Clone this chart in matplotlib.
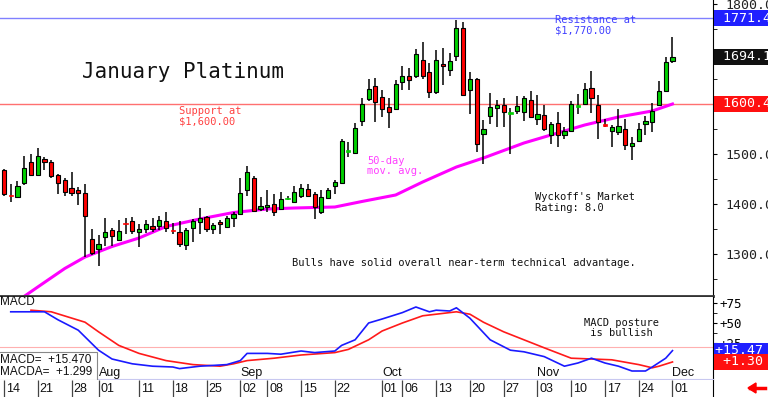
import matplotlib
matplotlib.use('Agg')
import matplotlib.pyplot as plt
import numpy as np
from matplotlib.transforms import blended_transform_factory

# Kerzen (Index 0 = 14. Juli, Index 99 = 1. Dezember)
opens = [1468, 1418, 1415, 1443, 1485, 1459, 1491, 1485, 1459, 1448,
         1433, 1428, 1423, 1331, 1311, 1335, 1348, 1328, 1362, 1367,
         1344, 1351, 1357, 1357, 1367, 1348, 1345, 1319, 1352, 1364,
         1375, 1351, 1365, 1355, 1373, 1381, 1429, 1453, 1391, 1395,
         1401, 1391, 1411, 1405, 1417, 1431, 1420, 1384, 1413, 1436,
         1443, 1506, 1503, 1567, 1611, 1637, 1615, 1595, 1591, 1645,
         1656, 1656, 1688, 1665, 1624, 1681, 1669, 1697, 1753, 1629,
         1651, 1541, 1576, 1593, 1599, 1582, 1587, 1585, 1609, 1571,
         1578, 1538, 1563, 1539, 1547, 1596, 1601, 1633, 1599, 1559,
         1547, 1545, 1550, 1517, 1526, 1561, 1565, 1599, 1627, 1686]
highs = [1470, 1441, 1447, 1496, 1501, 1512, 1495, 1488, 1460, 1453,
         1465, 1435, 1441, 1351, 1338, 1373, 1353, 1368, 1373, 1375,
         1360, 1368, 1373, 1377, 1384, 1363, 1367, 1353, 1371, 1393,
         1377, 1363, 1368, 1377, 1385, 1453, 1476, 1456, 1415, 1428,
         1420, 1424, 1416, 1436, 1440, 1440, 1424, 1429, 1432, 1449,
         1531, 1524, 1563, 1613, 1651, 1653, 1629, 1612, 1648, 1677,
         1672, 1711, 1725, 1683, 1708, 1712, 1703, 1769, 1765, 1664,
         1653, 1568, 1623, 1609, 1613, 1593, 1617, 1617, 1627, 1618,
         1598, 1565, 1585, 1555, 1606, 1621, 1642, 1667, 1618, 1571,
         1559, 1590, 1570, 1534, 1563, 1577, 1602, 1647, 1695, 1735]
lows = [1416, 1405, 1414, 1439, 1456, 1456, 1469, 1453, 1421, 1416,
        1416, 1399, 1295, 1298, 1276, 1316, 1316, 1327, 1341, 1341,
        1315, 1343, 1345, 1349, 1344, 1341, 1315, 1308, 1325, 1340,
        1344, 1341, 1341, 1353, 1355, 1379, 1416, 1384, 1387, 1385,
        1376, 1388, 1408, 1403, 1413, 1415, 1371, 1381, 1412, 1420,
        1441, 1495, 1501, 1557, 1607, 1564, 1575, 1553, 1588, 1628,
        1629, 1652, 1651, 1613, 1621, 1639, 1657, 1687, 1616, 1581,
        1505, 1481, 1561, 1555, 1555, 1501, 1580, 1566, 1573, 1558,
        1547, 1521, 1515, 1531, 1545, 1581, 1598, 1582, 1530, 1555,
        1514, 1539, 1509, 1489, 1525, 1539, 1545, 1598, 1624, 1683]
closes = [1420, 1417, 1437, 1473, 1459, 1497, 1485, 1456, 1443, 1424,
          1423, 1423, 1376, 1303, 1321, 1345, 1336, 1347, 1361, 1347,
          1351, 1360, 1351, 1368, 1352, 1347, 1321, 1349, 1367, 1372,
          1351, 1359, 1360, 1372, 1381, 1423, 1465, 1387, 1397, 1399,
          1385, 1411, 1412, 1425, 1432, 1417, 1395, 1415, 1429, 1444,
          1527, 1507, 1553, 1601, 1631, 1605, 1591, 1585, 1640, 1657,
          1649, 1700, 1656, 1624, 1689, 1676, 1687, 1753, 1619, 1651,
          1520, 1551, 1595, 1599, 1584, 1583, 1597, 1613, 1575, 1581,
          1551, 1561, 1538, 1547, 1601, 1597, 1630, 1613, 1565, 1558,
          1554, 1557, 1518, 1522, 1551, 1566, 1586, 1627, 1685, 1694]

# 50-Tage-Durchschnitt
ma_idx = [2, 5, 9, 12, 16, 20, 24, 29, 34, 39, 43, 49, 53, 58, 62, 67,
          71, 77, 81, 86, 91, 96, 99]
ma_val = [1206, 1234, 1271, 1294, 1315, 1332, 1355, 1370, 1383, 1390,
          1392, 1394, 1405, 1418, 1444, 1474, 1492, 1522, 1538, 1558,
          1574, 1586, 1600]

# MACD
macd_idx = [1, 4, 6, 8, 11, 14, 16, 19, 22, 25, 26, 29, 33, 35, 36, 39,
            41, 44, 46, 49, 50, 52, 54, 56, 59, 61, 63, 64, 66, 67, 69,
            71, 72, 75, 77, 80, 83, 85, 87, 89, 91, 93, 95, 96, 98, 99]
macd_val = [64, 64, 64, 54, 41, 16, 5, -1, -4, -5, -7, -4, -2, 3, 12, 12,
            11, 15, 13, 15, 22, 29, 50, 55, 63, 70, 64, 66, 65, 69, 56,
            38, 29, 16, 14, 8, -4, 0, 6, 0, -4, -10, -10, -5, 6, 15.47]
sig_idx = [4, 7, 12, 14, 17, 20, 24, 28, 32, 34, 36, 40, 44, 49, 51, 54,
           56, 59, 62, 65, 67, 69, 71, 74, 77, 80, 84, 87, 90, 94, 96, 97, 99]
sig_val = [66, 64, 51, 39, 22, 12, 3, -2, -4, -1, 3, 6, 10, 13, 17, 29,
           40, 50, 59, 62, 64, 61, 51, 39, 29, 19, 6, 5, 4, -2, -6, -4, 1.30]

day_ticks = [0, 5, 10, 14, 20, 25, 30, 35, 39, 44, 49, 56, 59, 64, 69,
             74, 79, 84, 89, 94, 99]
day_labels = ['14', '21', '28', '01', '11', '18', '25', '02', '08', '15',
              '22', '01', '06', '13', '20', '27', '03', '10', '17', '24', '01']
month_ticks = [14, 35, 56, 79, 99]
month_labels = ['Aug', 'Sep', 'Oct', 'Nov', 'Dec']

resistance = 1771.4
support = 1600.4
last_close = 1694.1

W, H = 768, 397
fig = plt.figure(figsize=(W / 100, H / 100), dpi=100)
fig.patch.set_facecolor('white')
mono = 'DejaVu Sans Mono'
sans = 'Liberation Sans'


def px_axes(left, top, right, bottom):
    return fig.add_axes([left / W, 1 - bottom / H, (right - left) / W, (bottom - top) / H])


xlim = (-0.59, 105.0)

# --- Kurs-Panel ---
ax = px_axes(0, 0, 713, 296)
ax.set_xlim(*xlim)
ax.set_ylim(1216, 1808)

x = np.arange(len(opens))
o = np.array(opens)
c = np.array(closes)
up = c >= o
ax.vlines(x, lows, highs, color='black', lw=1.1, zorder=3)
body = np.abs(c - o)
small = body < 3
cols = np.where(up, '#00d000', '#ff0000')
ax.bar(x[~small], body[~small], bottom=np.minimum(o, c)[~small], width=0.62,
       color=cols[~small], edgecolor='black', lw=0.8, zorder=4)
ax.bar(x[small], 3, bottom=np.minimum(o, c)[small] - 1, width=0.62,
       color=cols[small], edgecolor=cols[small], lw=0.5, zorder=4)

ax.plot(ma_idx, ma_val, color='#ff00ff', lw=2.2, zorder=2)
ax.axhline(resistance, color='#8080ff', lw=1.0, zorder=1)
ax.axhline(support, color='#ff7070', lw=1.0, zorder=1)

ax.yaxis.tick_right()
ax.set_yticks(np.arange(1300, 1801, 100))
ax.set_yticks(np.arange(1250, 1801, 50), minor=True)
ax.set_yticklabels(['%.1f' % v for v in np.arange(1300, 1801, 100)],
                   fontfamily=mono, fontsize=9.5)
ax.tick_params(axis='y', which='both', direction='out', length=3, pad=6, colors='black')
ax.tick_params(axis='y', which='major', labelcolor='#222222')
ax.set_xticks([])
for s in ['left', 'top']:
    ax.spines[s].set_visible(False)
ax.spines['right'].set_color('black')
ax.spines['bottom'].set_color('#333333')
ax.spines['bottom'].set_linewidth(2)

tr = blended_transform_factory(ax.transAxes, ax.transData)
for val, col in [(resistance, '#2020ff'), (last_close, '#111111'), (support, '#ff1010')]:
    ax.text(1.003, val, ' %.1f    ' % val, transform=tr, ha='left', va='center',
            fontfamily=mono, fontsize=9.5, color='white', zorder=10, clip_on=False,
            bbox=dict(boxstyle='square,pad=0.12', fc=col, ec='none'))

ax.text(0.115, 0.757, 'January Platinum', transform=ax.transAxes, fontfamily=mono,
        fontsize=15, va='center', ha='left', color='#111111')
ax.text(0.251, 0.643, 'Support at\n$1,600.00', transform=ax.transAxes, fontfamily=mono,
        fontsize=7.5, va='top', color='#ff4040', linespacing=1.05)
ax.text(0.778, 0.948, 'Resistance at\n$1,770.00', transform=ax.transAxes, fontfamily=mono,
        fontsize=7.5, va='top', color='#4040ff', linespacing=1.05)
ax.text(0.515, 0.473, '50-day\nmov. avg.', transform=ax.transAxes, fontfamily=mono,
        fontsize=7.5, va='top', color='#ff40ff', linespacing=1.05)
ax.text(0.750, 0.350, "Wyckoff's Market\nRating: 8.0", transform=ax.transAxes,
        fontfamily=mono, fontsize=7.5, va='top', color='#111111', linespacing=1.05)
ax.text(0.4095, 0.111, 'Bulls have solid overall near-term technical advantage.',
        transform=ax.transAxes, fontfamily=mono, fontsize=7.5, va='center',
        color='#111111')

# --- MACD-Panel ---
mx = px_axes(0, 297, 713, 379)
mx.set_xlim(*xlim)
mx.set_ylim(-20, 82.5)
mx.plot(macd_idx, macd_val, color='#1a1aff', lw=1.2, zorder=3)
mx.plot(sig_idx, sig_val, color='#ff1a1a', lw=1.2, zorder=2)
mx.axhline(20, color='#ffb0b0', lw=0.8, zorder=1)
mx.yaxis.tick_right()
mx.set_yticks([25, 50, 75])
mx.set_yticklabels(['+25', '+50', '+75'], fontfamily=mono, fontsize=9)
mx.set_yticks([12.5, 37.5, 62.5], minor=True)
mx.tick_params(axis='y', which='both', direction='out', length=3, pad=2)
mx.set_xticks([])
for s in ['left', 'top']:
    mx.spines[s].set_visible(False)
mx.spines['bottom'].set_color('#c8c8f0')
mx.spines['right'].set_color('black')

trm = blended_transform_factory(mx.transAxes, mx.transData)
for val, col in [(macd_val[-1], '#2020ff'), (sig_val[-1], '#ff1010')]:
    txt = ('%+.2f' % val).rjust(6) + '    '
    mx.text(1.003, val, txt, transform=trm, ha='left', va='center',
            fontfamily=mono, fontsize=9.5, color='white', zorder=10, clip_on=False,
            bbox=dict(boxstyle='square,pad=0.1', fc=col, ec='none'))

mx.text(0.0, 0.94, 'MACD', transform=mx.transAxes, fontfamily=sans, fontsize=8.5,
        va='center', ha='left', color='#111111')
mx.text(0.819, 0.75, 'MACD posture\n is bullish', transform=mx.transAxes, fontfamily=mono,
        fontsize=7.5, va='top', color='#111111', linespacing=1.05)
mx.text(0.0, 0.16, 'MACD=  +15.470 \nMACDA=  +1.299 ', transform=mx.transAxes,
        fontfamily=sans, fontsize=8.5, va='center', ha='left', color='#111111',
        linespacing=1.0, zorder=6,
        bbox=dict(boxstyle='square,pad=0.15', fc='white', ec='#888888', lw=0.8))
for t, lab in zip(month_ticks, month_labels):
    mx.text(t, -20, lab, fontfamily=sans, fontsize=9, va='bottom', ha='left',
            color='#111111')

# --- Datumszeile ---
dx = px_axes(0, 380, 713, 397)
dx.set_xlim(*xlim)
dx.set_ylim(0, 1)
dx.vlines(day_ticks, 0, 1, color='#444444', lw=0.9)
for t, lab in zip(day_ticks, day_labels):
    dx.text(t + 0.25, 0.45, lab, fontfamily=sans, fontsize=9, va='center', ha='left',
            color='#111111')
dx.set_xticks([])
dx.set_yticks([])
for s in ['left', 'top', 'bottom']:
    dx.spines[s].set_visible(False)
dx.spines['right'].set_color('black')

fig.add_artist(plt.Line2D([750 / W, 765 / W], [1 - 388 / H] * 2, color='red', lw=2.5))
fig.add_artist(plt.Polygon([[748 / W, 1 - 388 / H], [756 / W, 1 - 383 / H],
                            [756 / W, 1 - 393 / H]], color='red'))

fig.savefig('out.png', dpi=100)
